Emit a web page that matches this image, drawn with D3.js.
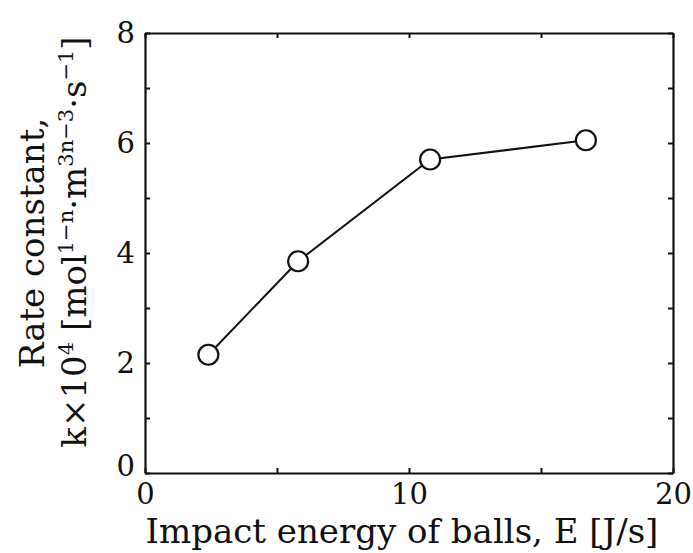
<!DOCTYPE html>
<html><head><meta charset="utf-8">
<script src="https://cdn.jsdelivr.net/npm/d3@7"></script>
<style>body{margin:0;background:#fff}svg{display:block}</style>
</head><body>
<script>
const energy = [2.4, 5.8, 10.8, 16.7];
const rate = [2.15, 3.85, 5.7, 6.05];
const xTicks = [0, 5, 10, 15, 20];
const xTickLabels = ["0", "", "10", "", "20"];
const yTicks = [0, 1, 2, 3, 4, 5, 6, 7, 8];
const yTickLabels = ["0", "", "2", "", "4", "", "6", "", "8"];

const W = 693, H = 553;
const m = {left: 145, top: 33, right: 20, bottom: 80};
const svg = d3.select("body").append("svg").attr("width", W).attr("height", H);
const font = "'DejaVu Serif', serif";
const x = d3.scaleLinear().domain([0, 20]).range([m.left, W - m.right]);
const y = d3.scaleLinear().domain([0, 8]).range([H - m.bottom, m.top]);

const gx = svg.append("g").attr("transform", `translate(0,${H - m.bottom})`)
  .call(d3.axisBottom(x).tickValues(xTicks).tickSizeInner(-5).tickSizeOuter(0).tickPadding(10)
    .tickFormat((d, i) => xTickLabels[i]));
const gy = svg.append("g").attr("transform", `translate(${m.left},0)`)
  .call(d3.axisLeft(y).tickValues(yTicks).tickSizeInner(-5).tickSizeOuter(0).tickPadding(10)
    .tickFormat((d, i) => yTickLabels[i]));
const gx2 = svg.append("g").attr("transform", `translate(0,${m.top})`)
  .call(d3.axisTop(x).tickValues(xTicks).tickSizeInner(-5).tickSizeOuter(0).tickFormat(""));
const gy2 = svg.append("g").attr("transform", `translate(${W - m.right},0)`)
  .call(d3.axisRight(y).tickValues(yTicks).tickSizeInner(-5).tickSizeOuter(0).tickFormat(""));
[gx, gy, gx2, gy2].forEach(g => {
  g.select(".domain").attr("stroke", "#111").attr("stroke-width", 2.2);
  g.selectAll(".tick line").attr("stroke", "#111").attr("stroke-width", 2);
  g.selectAll("text").attr("font-family", font).attr("font-size", 29).attr("fill", "#111");
});
gy.selectAll(".tick").filter(d => d === 0).select("text").attr("dy", "0.1em");

const line = d3.line().x((d, i) => x(energy[i])).y(d => y(d));
svg.append("path").datum(rate).attr("d", line).attr("fill", "none")
  .attr("stroke", "#111").attr("stroke-width", 2);
svg.selectAll("circle.pt").data(rate).join("circle").attr("class", "pt")
  .attr("cx", (d, i) => x(energy[i])).attr("cy", d => y(d)).attr("r", 10)
  .attr("fill", "#fff").attr("stroke", "#111").attr("stroke-width", 2.2);

svg.append("text").attr("x", 402).attr("y", 543).attr("text-anchor", "middle")
  .attr("font-family", font).attr("font-size", 34).attr("fill", "#111")
  .text("Impact energy of balls, E [J/s]");

const t1 = svg.append("text").attr("transform", "translate(44,243) rotate(-90)")
  .attr("text-anchor", "middle").attr("font-family", font).attr("font-size", 34).attr("fill", "#111")
  .text("Rate constant,");
const t2 = svg.append("text").attr("transform", "translate(86,242) rotate(-90)")
  .attr("text-anchor", "middle").attr("font-family", font).attr("font-size", 34).attr("fill", "#111");
t2.append("tspan").text("k×10");
t2.append("tspan").attr("dy", -13).attr("font-size", 21).text("4");
t2.append("tspan").attr("dy", 13).text(" [mol");
t2.append("tspan").attr("dy", -13).attr("font-size", 21).text("1−n");
t2.append("tspan").attr("dy", 13).text("·m");
t2.append("tspan").attr("dy", -13).attr("font-size", 21).text("3n−3");
t2.append("tspan").attr("dy", 13).text("·s");
t2.append("tspan").attr("dy", -13).attr("font-size", 21).text("−1");
t2.append("tspan").attr("dy", 13).text("]");
</script>
</body></html>
